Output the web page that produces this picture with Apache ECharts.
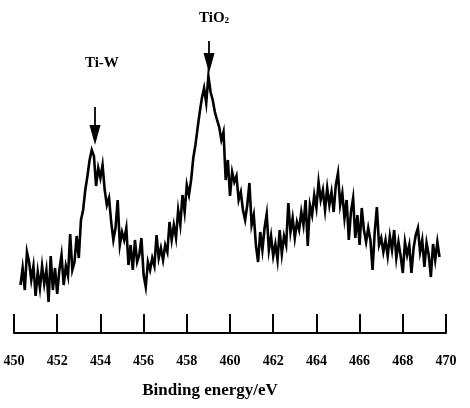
<!DOCTYPE html>
<html lang="en">
<head>
    <meta charset="UTF-8">
    <title>XPS Ti 2p</title>
    <script src="https://cdn.jsdelivr.net/npm/echarts@6/dist/echarts.min.js"></script>
    <style>
        * { margin: 0; padding: 0; }
        body { background: #fff; }
        #chart { width: 470px; height: 408px; }
    </style>
</head>
<body>
<div id="chart"></div>
<script>
    // binding energy axis (eV)
    var xTicks = [450, 452, 454, 456, 458, 460, 462, 464, 466, 468, 470];
    var energyStart = 450.3;   // first sample, eV
    var energyStep = 0.1;      // sample spacing, eV

    // intensity (arbitrary units), one value per sample
    var intensity = [
        48, 65, 43, 81, 71, 53, 67, 37, 61, 45,
        67, 49, 63, 31, 77, 43, 65, 39, 63, 78,
        48, 67, 57, 99, 63, 71, 97, 75, 113, 123,
        143, 157, 173, 183, 177, 147, 165, 155, 168, 143,
        128, 135, 111, 93, 105, 133, 88, 101, 93, 105,
        68, 88, 63, 93, 71, 78, 95, 58, 46, 71,
        63, 75, 67, 98, 75, 85, 73, 88, 81, 111,
        93, 108, 95, 123, 108, 138, 121, 148, 138, 153,
        175, 188, 205, 221, 235, 245, 230, 257, 241, 233,
        221, 213, 206, 193, 201, 153, 173, 137, 161, 151,
        157, 133, 141, 123, 113, 128, 150, 108, 118, 88,
        71, 101, 83, 105, 119, 83, 97, 77, 89, 73,
        103, 79, 97, 88, 130, 101, 115, 95, 111, 103,
        121, 108, 133, 87, 128, 118, 138, 125, 151, 133,
        143, 123, 145, 128, 141, 121, 148, 160, 128, 140,
        115, 133, 93, 121, 135, 95, 118, 88, 125, 103,
        91, 105, 93, 63, 101, 126, 88, 95, 81, 93,
        77, 97, 83, 103, 75, 91, 77, 60, 91, 78,
        88, 60, 85, 98, 105, 81, 93, 66, 90, 78,
        56, 89, 73, 91, 76
    ];

    // peak annotations: arrow x, arrow top, arrow tip, label position
    var peakNames = ['Ti-W', 'TiO2'];
    var arrowX = [453.75, 459.03];
    var arrowTop = [226, 292];
    var arrowTip = [188, 260];
    var labelX = [454.07, 459.26];
    var labelY = [270, 315];

    var series = [];
    for (var i = 0; i < intensity.length; i++) {
        series.push([+(energyStart + i * energyStep).toFixed(2), intensity[i]]);
    }

    var shafts = [];
    var heads = [];
    var labels = [];
    for (var k = 0; k < peakNames.length; k++) {
        shafts.push([{ coord: [arrowX[k], arrowTop[k]] }, { coord: [arrowX[k], arrowTip[k] + 8] }]);
        heads.push([arrowX[k], arrowTip[k]]);
        labels.push({ name: peakNames[k], value: [labelX[k], labelY[k]] });
    }

    var font = 'Liberation Serif';
    var chart = echarts.init(document.getElementById('chart'));
    chart.setOption({
        animation: false,
        backgroundColor: '#fff',
        grid: { left: 14, right: 24, top: 0, bottom: 75 },
        xAxis: {
            type: 'value',
            min: 450,
            max: 470,
            interval: 2,
            name: 'Binding energy/eV',
            nameLocation: 'middle',
            nameGap: 49,
            nameTextStyle: {
                fontFamily: font, fontWeight: 'bold', fontSize: 17, color: '#000',
                padding: [0, 40, 0, 0]
            },
            axisLine: { lineStyle: { color: '#000', width: 2 } },
            axisTick: { inside: true, length: 19, lineStyle: { color: '#000', width: 2 } },
            axisLabel: {
                margin: 21,
                fontFamily: font, fontWeight: 'bold', fontSize: 14, color: '#000',
                customValues: xTicks
            },
            splitLine: { show: false }
        },
        yAxis: {
            type: 'value',
            min: 0,
            max: 333,
            show: false
        },
        series: [
            {
                type: 'line',
                data: series,
                showSymbol: false,
                lineStyle: { color: '#000', width: 2.6, join: 'miter' },
                markLine: {
                    silent: true,
                    symbol: ['none', 'none'],
                    label: { show: false },
                    lineStyle: { color: '#000', width: 1.8, type: 'solid', opacity: 1 },
                    data: shafts
                }
            },
            {
                type: 'scatter',
                data: heads,
                symbol: 'path://M0,0 L10,0 L5,20 Z',
                symbolSize: [11, 20],
                symbolOffset: [0, -10],
                itemStyle: { color: '#000', opacity: 1 },
                silent: true
            },
            {
                type: 'scatter',
                data: labels,
                symbolSize: 0,
                silent: true,
                itemStyle: { opacity: 1 },
                label: {
                    show: true,
                    position: 'inside',
                    opacity: 1,
                    textBorderWidth: 0,
                    formatter: function (p) {
                        return p.name === 'TiO2' ? '{a|TiO}{b|2}' : '{a|' + p.name + '}';
                    },
                    rich: {
                        a: { fontFamily: font, fontWeight: 'bold', fontSize: 15, color: '#000', textBorderWidth: 0 },
                        b: { fontFamily: font, fontWeight: 'bold', fontSize: 9, color: '#000', textBorderWidth: 0, verticalAlign: 'bottom', padding: [6, 0, 0, 0] }
                    }
                }
            }
        ]
    });
</script>
</body>
</html>
